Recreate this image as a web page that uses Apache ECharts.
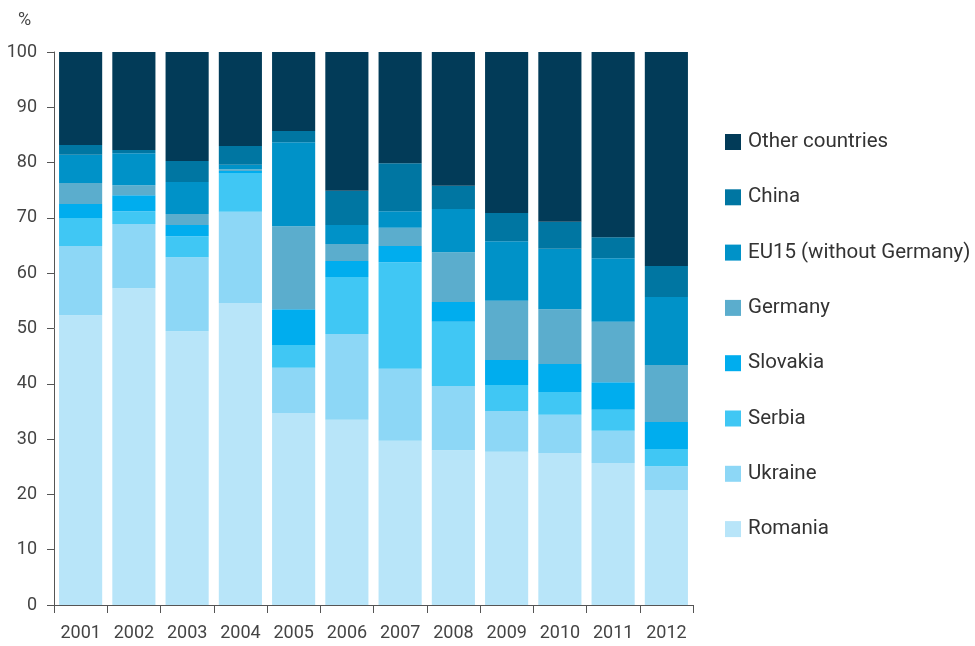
<!DOCTYPE html>
<html>
<head>
<meta charset="utf-8">
<script src="https://cdn.jsdelivr.net/npm/echarts@6/dist/echarts.min.js"></script>
<style>html,body{margin:0;padding:0;background:#fff;}#chart{width:975px;height:646px;}</style>
</head>
<body>
<div id="chart"></div>
<script>
const years = ['2001','2002','2003','2004','2005','2006','2007','2008','2009','2010','2011','2012'];
const yTicks = [0,10,20,30,40,50,60,70,80,90,100];
const romania = [52.4,57.3,49.5,54.6,34.7,33.5,29.7,28.0,27.7,27.5,25.7,20.8];
const ukraine = [12.5,11.6,13.4,16.5,8.2,15.5,13.0,11.6,7.4,6.9,5.8,4.3];
const serbia = [5.1,2.3,3.8,7.0,4.1,10.3,19.3,11.6,4.7,4.1,3.8,3.1];
const slovakia = [2.5,2.9,2.0,0.4,6.5,2.9,2.9,3.6,4.5,5.1,5.0,4.9];
const germany = [3.8,1.8,2.0,0.3,15.0,3.1,3.3,9.0,10.7,9.9,10.9,10.3];
const eu15 = [5.1,5.8,5.8,0.8,15.2,3.4,3.0,7.8,10.8,10.9,11.5,12.3];
const china = [1.8,0.6,3.8,3.4,2.0,6.2,8.7,4.2,5.1,4.9,3.8,5.6];
const other = [16.8,17.7,19.7,17.0,14.3,25.1,20.1,24.2,29.1,30.7,33.5,38.7];

const seriesDefs = [
  ['Romania', romania, '#b8e5f9'],
  ['Ukraine', ukraine, '#8dd7f6'],
  ['Serbia', serbia, '#40c7f4'],
  ['Slovakia', slovakia, '#00adee'],
  ['Germany', germany, '#5badcd'],
  ['EU15 (without Germany)', eu15, '#0092c8'],
  ['China', china, '#0076a2'],
  ['Other countries', other, '#023b58']
];

const FONT = 'Roboto';
const TXT = '#444';
const chart = echarts.init(document.getElementById('chart'), null, {renderer: 'canvas'});
chart.setOption({
  animation: false,
  textStyle: {fontFamily: FONT},
  grid: {left: 54, right: 282, top: 52, bottom: 41, containLabel: false},
  graphic: [{type: 'text', left: 18, top: 11, style: {text: '%', fontSize: 18, fill: TXT, fontFamily: FONT}}],
  legend: {
    orient: 'vertical', left: 725, top: 130, padding: 0,
    itemWidth: 16, itemHeight: 16, itemGap: 31.3,
    icon: 'rect',
    data: seriesDefs.map(s => s[0]).reverse(),
    textStyle: {fontSize: 20.5, color: '#333', fontFamily: FONT, lineHeight: 24, padding: [0,0,0,2]}
  },
  xAxis: {
    type: 'category', data: years,
    axisLine: {lineStyle: {color: '#555', width: 1}},
    axisTick: {show: true, interval: 0, length: 8, lineStyle: {color: '#555'}},
    axisLabel: {interval: 0, fontSize: 18, color: TXT, margin: 19, fontFamily: FONT}
  },
  yAxis: {
    type: 'value', min: yTicks[0], max: yTicks[yTicks.length-1], interval: 10,
    axisLine: {show: true, lineStyle: {color: '#555', width: 1}},
    axisTick: {show: true, length: 7, lineStyle: {color: '#555'}},
    splitLine: {show: false},
    axisLabel: {fontSize: 18, color: TXT, margin: 17, fontFamily: FONT}
  },
  series: seriesDefs.map(s => ({
    name: s[0], type: 'bar', stack: 'total', data: s[1],
    barCategoryGap: '19%',
    itemStyle: {color: s[2]},
    emphasis: {disabled: true}
  }))
});
</script>
</body>
</html>
